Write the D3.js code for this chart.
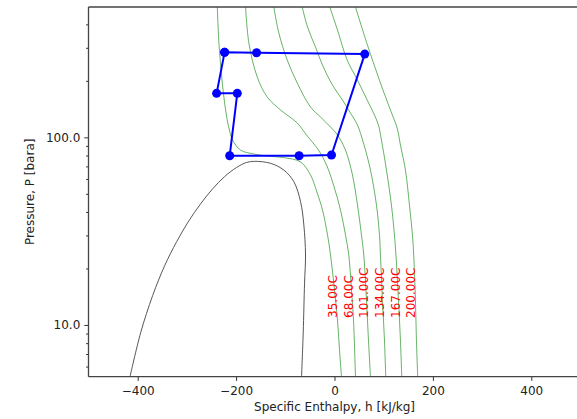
<!DOCTYPE html>
<html><head><meta charset="utf-8">
<script src="https://cdn.jsdelivr.net/npm/d3@7"></script>
<style>
body{margin:0;background:#fff;overflow:hidden}
text{font-family:"DejaVu Sans",sans-serif}
</style>
</head><body>
<svg id="chart" width="577" height="419"></svg>
<script>
// ---- data (h in kJ/kg, P in bara) ----
const xTicks = [-400, -200, 0, 200, 400];
const yMajorTicks = [10, 100];
const yMinorTicks = [6, 7, 8, 9, 20, 30, 40, 50, 60, 70, 80, 90, 200, 300, 400];

const domeCurve = [
  [-415.6, 5.3], [-394.0, 9.09], [-369.6, 14.35], [-345.1, 20.73], [-320.7, 27.82], [-296.5, 35.73],
  [-272.1, 44.23], [-247.7, 53.16], [-223.4, 61.77], [-199.0, 69.09], [-178.7, 73.46], [-162.4, 74.49],
  [-130.0, 72.7], [-102.9, 66.9], [-82.6, 58.0], [-69.0, 45.4], [-62.3, 34.1], [-58.9, 23.6],
  [-60.9, 16.7], [-63.6, 9.07], [-67.0, 5.3]
];

const iso35 = [
  [-238.2, 495], [-234.9, 318], [-228.0, 194.7], [-221.3, 139.8], [-214.6, 112.1], [-207.1, 96.7],
  [-190.9, 85.5], [-164.5, 81.5], [-136, 79.5], [-103.6, 78.0], [-69, 73.9], [-48.7, 63.0],
  [-35.1, 50.5], [-24.4, 41.0], [-14.2, 30.2], [-8.1, 23.6], [0, 15.4], [6.1, 10.6], [10.2, 7.36], [14.2, 5.3]
];
const iso68 = [
  [-180.7, 495], [-174.0, 318], [-157.0, 209.6], [-136.7, 164.0], [-109.6, 139.8], [-75.7, 119.2],
  [-56.9, 102.9], [-32.5, 85.5], [-16.2, 71.2], [-2.0, 55.7], [12.2, 41.0], [22.3, 30.2],
  [29.0, 23.6], [34.5, 15.4], [38.6, 10.6], [42.6, 5.3]
];
const iso101 = [
  [-123.3, 495], [-113.1, 359.5], [-96.0, 258.1], [-75.7, 194.7], [-48.7, 145.0], [-28.4, 128.3],
  [-8.1, 113.5], [6.1, 102.9], [22.3, 85.5], [36.5, 63.0], [46.7, 43.6], [54.8, 30.2],
  [59.5, 23.6], [65.0, 13.6], [69.0, 8.32], [73.1, 5.3]
];
const iso134 = [
  [-65.6, 495], [-54.8, 387], [-38.6, 302.8], [-24.4, 242.7], [-4.1, 189.9], [16.2, 158.0],
  [32.5, 134.7], [46.7, 116.3], [58.9, 93.2], [73.1, 66.9], [85.3, 43.6], [91.4, 30.2],
  [93.4, 23.6], [97.5, 13.6], [101.5, 8.32], [104.2, 5.3]
];
const iso167 = [
  [-9.5, 495], [6.1, 372.9], [25.8, 258.1], [46.7, 202.0], [66.4, 158.0], [81.2, 131.5],
  [89.3, 116.3], [95.4, 96.7], [105.6, 66.9], [115.7, 43.6], [121.8, 30.2], [124.9, 23.6],
  [130.0, 13.6], [134.0, 8.32], [136.7, 5.3]
];
const iso200 = [
  [42.6, 495], [67.0, 310.3], [93.4, 194.7], [113.7, 139.8], [127.3, 112.1], [134.0, 91.0],
  [144.2, 66.9], [152.3, 43.6], [158.4, 30.2], [161.0, 23.6], [164.5, 13.6], [166.5, 8.32], [169.1, 5.3]
];
const isotherms = [iso35, iso68, iso101, iso134, iso167, iso200];

const labelTexts = ["35.00C", "68.00C", "101.00C", "134.00C", "167.00C", "200.00C"];
const labelH = [-4.1, 28.4, 60.3, 92.4, 124.4, 155.7];
const labelP = 10.9;

const cycleH = [-223.4, -158.4, 61.5, -6.1, -72.0, -213.0, -197.6, -239.6, -223.4];
const cycleP = [283.8, 282.3, 277.8, 80.5, 79.8, 79.8, 171.6, 171.6, 283.8];

// ---- layout ----
const L = 88.5, R = 580.5, T = 7, B = 376.7;
const svg = d3.select("#chart");
const x = d3.scaleLinear().domain([-500, 500]).range([L, R]);
const y = d3.scaleLog().domain([5.3, 495]).range([B, T]);

svg.append("defs").append("clipPath").attr("id", "clip")
  .append("rect").attr("x", L).attr("y", T).attr("width", R - L).attr("height", B - T);

const plot = svg.append("g").attr("clip-path", "url(#clip)");
const curveLine = d3.line().x(d => x(d[0])).y(d => y(d[1])).curve(d3.curveCatmullRom.alpha(0.5));

plot.append("path").datum(domeCurve).attr("d", curveLine)
  .attr("fill", "none").attr("stroke", "#444").attr("stroke-width", 0.9);

plot.selectAll("path.iso").data(isotherms).join("path").attr("class", "iso")
  .attr("d", curveLine).attr("fill", "none")
  .attr("stroke", "#008000").attr("stroke-opacity", 0.6).attr("stroke-width", 1);

plot.selectAll("text.lab").data(labelTexts).join("text").attr("class", "lab")
  .attr("transform", (d, i) => `translate(${x(labelH[i]) + 4.3},${y(labelP)}) rotate(-90)`)
  .attr("font-size", "12px").attr("fill", "#ff0000").attr("text-anchor", "start")
  .text(d => d);

const cyc = cycleH.map((h, i) => [h, cycleP[i]]);
plot.append("path").datum(cyc)
  .attr("d", d3.line().x(d => x(d[0])).y(d => y(d[1])))
  .attr("fill", "none").attr("stroke", "#0000ff").attr("stroke-width", 2).attr("stroke-linejoin", "round");
plot.selectAll("circle.pt").data(cyc).join("circle").attr("class", "pt")
  .attr("cx", d => x(d[0])).attr("cy", d => y(d[1])).attr("r", 4.5).attr("fill", "#0000ff");

// ---- axes ----
const fmtX = d => d < 0 ? "\u2212" + Math.abs(d) : String(d);
const gx = svg.append("g").attr("transform", `translate(0,${B})`)
  .call(d3.axisBottom(x).tickValues(xTicks).tickSize(4.2).tickPadding(5.3).tickFormat(fmtX));
const gy = svg.append("g").attr("transform", `translate(${L},0)`)
  .call(d3.axisLeft(y).tickValues(yMajorTicks).tickSize(4.2).tickPadding(4).tickFormat(d3.format(".1f")));
const gym = svg.append("g").attr("transform", `translate(${L},0)`)
  .call(d3.axisLeft(y).tickValues(yMinorTicks).tickSize(2.4).tickFormat(""));
[gx, gy, gym].forEach(g => {
  g.select(".domain").remove();
  g.selectAll("line").attr("stroke", "#333").attr("stroke-width", 1);
  g.selectAll("text").attr("font-size", "12px").attr("fill", "#222")
    .attr("font-family", "DejaVu Sans, sans-serif");
});

// spines
const sp = svg.append("g").attr("stroke", "#444").attr("stroke-width", 1.3).attr("fill", "none");
sp.append("line").attr("x1", L).attr("x2", R).attr("y1", T).attr("y2", T);
sp.append("line").attr("x1", L).attr("x2", R).attr("y1", B).attr("y2", B);
sp.append("line").attr("x1", L).attr("x2", L).attr("y1", T).attr("y2", B);
sp.append("line").attr("x1", R).attr("x2", R).attr("y1", T).attr("y2", B);

// axis labels
svg.append("text").attr("x", (L + R) / 2).attr("y", 410.5).attr("text-anchor", "middle")
  .attr("font-size", "12px").attr("fill", "#222").text("Specific Enthalpy, h [kJ/kg]");
svg.append("text").attr("transform", `translate(34,${(T + B) / 2}) rotate(-90)`)
  .attr("text-anchor", "middle").attr("font-size", "12px").attr("fill", "#222")
  .text("Pressure, P [bara]");
</script>
</body></html>
